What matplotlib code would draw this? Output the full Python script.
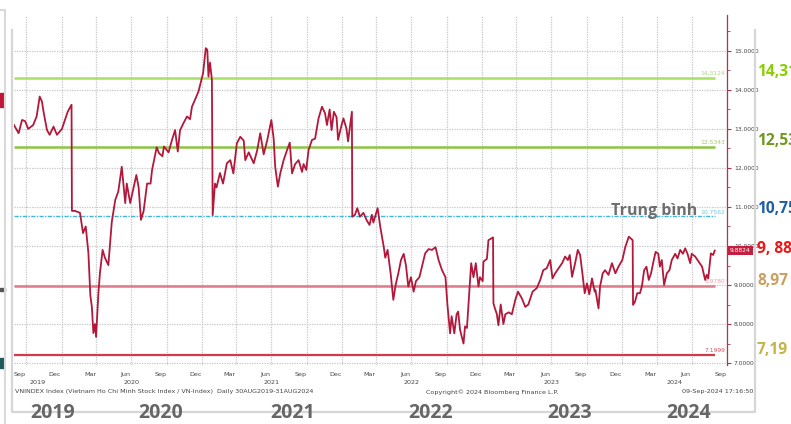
import matplotlib
matplotlib.use("Agg")
import matplotlib.pyplot as plt
import matplotlib.dates as mdates
import matplotlib.transforms as mtransforms
from matplotlib.patches import Rectangle
from matplotlib.lines import Line2D
from matplotlib.ticker import MultipleLocator, FormatStrFormatter
import pandas as pd

# ---------------- data ----------------
dates = [
    "2019-08-30", "2019-09-11", "2019-09-20", "2019-09-28", "2019-10-06", "2019-10-19", "2019-10-28",
    "2019-11-05", "2019-11-11", "2019-11-15", "2019-11-24", "2019-12-01", "2019-12-11", "2019-12-20",
    "2020-01-02", "2020-01-10", "2020-01-17", "2020-01-27", "2020-01-28", "2020-02-05", "2020-02-18",
    "2020-02-26", "2020-03-04", "2020-03-11", "2020-03-16", "2020-03-20", "2020-03-24", "2020-03-28",
    "2020-03-31", "2020-04-06", "2020-04-10", "2020-04-17", "2020-04-23", "2020-05-02", "2020-05-11",
    "2020-05-20", "2020-05-28", "2020-06-06", "2020-06-15", "2020-06-19", "2020-06-28", "2020-07-07",
    "2020-07-14", "2020-07-20", "2020-07-26", "2020-08-02", "2020-08-11", "2020-08-20", "2020-08-24",
    "2020-09-05", "2020-09-11", "2020-09-20", "2020-09-24", "2020-10-06", "2020-10-15", "2020-10-23",
    "2020-10-30", "2020-11-05", "2020-11-14", "2020-11-23", "2020-12-01", "2020-12-06", "2020-12-14",
    "2020-12-23", "2021-01-04", "2021-01-11", "2021-01-15", "2021-01-18", "2021-01-22", "2021-01-27",
    "2021-01-29", "2021-02-04", "2021-02-08", "2021-02-17", "2021-02-25", "2021-03-07", "2021-03-16",
    "2021-03-24", "2021-04-02", "2021-04-11", "2021-04-20", "2021-04-24", "2021-05-03", "2021-05-16",
    "2021-05-25", "2021-06-02", "2021-06-11", "2021-06-20", "2021-07-01", "2021-07-07", "2021-07-11",
    "2021-07-18", "2021-07-24", "2021-08-02", "2021-08-11", "2021-08-18", "2021-08-24", "2021-09-01",
    "2021-09-10", "2021-09-19", "2021-09-23", "2021-09-30", "2021-10-06", "2021-10-15", "2021-10-23",
    "2021-11-01", "2021-11-10", "2021-11-18", "2021-11-23", "2021-11-30", "2021-12-05", "2021-12-11",
    "2021-12-18", "2021-12-22", "2021-12-31", "2022-01-05", "2022-01-13", "2022-01-17", "2022-01-22",
    "2022-01-27", "2022-01-28", "2022-02-04", "2022-02-10", "2022-02-17", "2022-02-26", "2022-03-07",
    "2022-03-14", "2022-03-20", "2022-03-24", "2022-04-04", "2022-04-11", "2022-04-20", "2022-04-24",
    "2022-04-30", "2022-05-08", "2022-05-15", "2022-05-21", "2022-05-28", "2022-06-04", "2022-06-11",
    "2022-06-17", "2022-06-23", "2022-06-30", "2022-07-07", "2022-07-13", "2022-07-22", "2022-07-31",
    "2022-08-06", "2022-08-15", "2022-08-24", "2022-09-02", "2022-09-10", "2022-09-19", "2022-09-28",
    "2022-10-03", "2022-10-06", "2022-10-10", "2022-10-14", "2022-10-21", "2022-10-27", "2022-10-31",
    "2022-11-05", "2022-11-14", "2022-11-18", "2022-11-23", "2022-11-29", "2022-12-04", "2022-12-10",
    "2022-12-16", "2022-12-23", "2022-12-27", "2023-01-03", "2023-01-05", "2023-01-14", "2023-01-18",
    "2023-01-30", "2023-01-31", "2023-02-04", "2023-02-09", "2023-02-13", "2023-02-19", "2023-02-26",
    "2023-03-03", "2023-03-12", "2023-03-20", "2023-03-29", "2023-04-05", "2023-04-15", "2023-04-24",
    "2023-05-02", "2023-05-13", "2023-05-24", "2023-06-02", "2023-06-10", "2023-06-19", "2023-06-28",
    "2023-07-04", "2023-07-11", "2023-07-20", "2023-07-29", "2023-08-06", "2023-08-13", "2023-08-18",
    "2023-08-24", "2023-09-01", "2023-09-08", "2023-09-14", "2023-09-19", "2023-09-26", "2023-10-02",
    "2023-10-08", "2023-10-15", "2023-10-22", "2023-10-24", "2023-11-01", "2023-11-05", "2023-11-12",
    "2023-11-18", "2023-11-27", "2023-12-06", "2023-12-15", "2023-12-23", "2024-01-02", "2024-01-10",
    "2024-01-19", "2024-01-29", "2024-01-30", "2024-02-04", "2024-02-10", "2024-02-17", "2024-02-22",
    "2024-02-28", "2024-03-05", "2024-03-11", "2024-03-17", "2024-03-24", "2024-03-29", "2024-04-05",
    "2024-04-09", "2024-04-14", "2024-04-20", "2024-04-27", "2024-05-04", "2024-05-10", "2024-05-19",
    "2024-05-25", "2024-06-01", "2024-06-08", "2024-06-14", "2024-06-20", "2024-06-27", "2024-07-01",
    "2024-07-10", "2024-07-19", "2024-07-28", "2024-08-05", "2024-08-09", "2024-08-13", "2024-08-20",
    "2024-08-26", "2024-08-30",
]
pe_values = [
    13.10, 12.89, 13.23, 13.20, 13.00, 13.10, 13.32,
    13.83, 13.70, 13.44, 12.97, 12.85, 13.06, 12.85,
    13.00, 13.23, 13.44, 13.62, 10.90, 10.90, 10.85,
    10.33, 10.50, 9.82, 8.74, 8.44, 7.77, 8.00,
    7.67, 8.79, 9.30, 9.90, 9.70, 9.51, 10.62,
    11.18, 11.40, 12.03, 11.10, 11.60, 11.10, 11.50,
    11.82, 11.50, 10.67, 10.90, 11.60, 11.60, 11.95,
    12.53, 12.38, 12.30, 12.55, 12.40, 12.72, 12.97,
    12.42, 12.97, 13.15, 13.32, 13.25, 13.57, 13.75,
    13.96, 14.43, 15.07, 15.03, 14.34, 14.70, 14.26,
    10.79, 11.60, 11.50, 11.87, 11.60, 12.12, 12.20,
    11.86, 12.63, 12.80, 12.70, 12.20, 12.40, 12.12,
    12.45, 12.89, 12.35, 12.70, 13.23, 12.75, 12.03,
    11.52, 11.85, 12.20, 12.46, 12.65, 11.86, 12.10,
    12.20, 11.90, 12.10, 11.95, 12.46, 12.72, 12.75,
    13.27, 13.57, 13.40, 13.10, 13.50, 12.97, 13.44,
    13.30, 12.72, 13.10, 13.27, 13.00, 12.68, 13.05,
    13.44, 10.75, 10.80, 10.97, 10.75, 10.85, 10.65,
    10.54, 10.80, 10.60, 10.97, 10.49, 9.98, 9.70,
    9.90, 9.30, 8.62, 9.00, 9.30, 9.64, 9.80,
    9.50, 8.96, 9.20, 8.83, 9.10, 9.20, 9.56,
    9.81, 9.92, 9.90, 9.97, 9.64, 9.38, 9.20,
    8.50, 8.19, 7.76, 8.20, 7.76, 8.25, 8.32,
    7.85, 7.50, 7.94, 7.90, 8.79, 9.56, 9.20,
    9.56, 8.96, 9.20, 9.10, 9.60, 9.67, 10.15,
    10.22, 8.53, 8.40, 8.25, 7.97, 8.50, 8.00,
    8.25, 8.30, 8.25, 8.62, 8.83, 8.66, 8.44,
    8.50, 8.83, 8.92, 9.13, 9.38, 9.43, 9.64,
    9.17, 9.30, 9.43, 9.56, 9.73, 9.64, 9.77,
    9.21, 9.56, 9.90, 9.77, 9.38, 8.79, 9.04,
    8.76, 9.17, 8.83, 8.87, 8.40, 8.96, 9.30,
    9.38, 9.26, 9.56, 9.30, 9.47, 9.64, 9.98,
    10.24, 10.15, 8.49, 8.57, 8.79, 8.79, 8.96,
    9.38, 9.47, 9.13, 9.30, 9.64, 9.85, 9.80,
    9.47, 9.64, 9.00, 9.30, 9.38, 9.64, 9.80,
    9.68, 9.90, 9.80, 9.94, 9.80, 9.56, 9.80,
    9.73, 9.60, 9.47, 9.13, 9.26, 9.17, 9.81,
    9.77, 9.8824,
]

ref_values = [14.3124, 12.5343, 10.7562, 8.9780, 7.1999]
ref_labels = ["14.3124", "12.5343", "10.7562", "8.9780", "7.1999"]
last_value = 9.8824
last_label = "9.8824"

side_labels = ["14,31", "12,53", "10,75", "9, 88", "8,97", "7,19"]
mean_label = "Trung bình"
years = [2019, 2020, 2021, 2022, 2023, 2024]
big_year_labels = ["2019", "2020", "2021", "2022", "2023", "2024"]

footer_left = "VNINDEX Index (Vietnam Ho Chi Minh Stock Index / VN-Index)  Daily 30AUG2019-31AUG2024"
footer_mid = "Copyright\u00a9 2024 Bloomberg Finance L.P."
footer_right = "09-Sep-2024 17:16:50"

x_start, x_end = "2019-08-30", "2024-10-01"

# ---------------- figure ----------------
W, H = 791, 424
fig = plt.figure(figsize=(W / 100, H / 100), dpi=100)
fig.patch.set_facecolor("white")


def fx(px):
    return px / W


def fy(py):
    return 1 - py / H


ax_l, ax_r, ax_t, ax_b = 14, 727, 15, 365
ax = fig.add_axes([fx(ax_l), fy(ax_b), fx(ax_r) - fx(ax_l), fy(ax_t) - fy(ax_b)])
ax.set_facecolor("white")

d = pd.to_datetime(dates)
ax.set_xlim(pd.Timestamp(x_start), pd.Timestamp(x_end))
ax.set_ylim(6.95, 15.92)

# grid
ax.yaxis.set_major_locator(MultipleLocator(1))
ax.yaxis.set_minor_locator(MultipleLocator(0.5))
ax.xaxis.set_major_locator(mdates.MonthLocator(bymonth=[3, 6, 9, 12], bymonthday=15))
ax.xaxis.set_major_formatter(mdates.DateFormatter("%b"))
ax.xaxis.set_minor_locator(mdates.MonthLocator(bymonth=[1, 4, 7, 10]))
ax.grid(False)
ax.yaxis.grid(True, which="major", color="#c6c6cc", linestyle=(0, (1, 1)), linewidth=0.9)
ax.xaxis.grid(True, which="minor", color="#c6c6c6", linestyle=(0, (1, 1)), linewidth=0.9)

for s in ["top", "left", "bottom"]:
    ax.spines[s].set_visible(False)
ax.spines["right"].set_color("#a8384a")
ax.spines["right"].set_linewidth(0.9)

ax.yaxis.tick_right()
ax.yaxis.set_major_formatter(FormatStrFormatter("%.4f"))
ax.tick_params(axis="y", which="major", direction="out", length=3, width=0.8, color="#a8384a",
               labelsize=4.3, labelcolor="#444444", pad=2)
ax.tick_params(axis="y", which="minor", direction="out", length=2, width=0.6, color="#a8384a")
ax.tick_params(axis="x", which="both", length=0, labelsize=4.6, labelcolor="#444444", pad=5)

# reference lines
ref_colors = ["#a8e064", "#8cc444", "#3db8d8", "#e07b8b", "#d23a4c"]
ref_label_colors = ["#a8d878", "#a0c870", "#70c8e0", "#e8a0a8", "#d85060"]
ref_styles = ["-", "-", (0, (3, 1, 1, 1)), "-", "-"]
ref_widths = [1.8, 1.8, 1.0, 1.8, 1.6]
yblend = mtransforms.blended_transform_factory(ax.transAxes, ax.transData)
for v, c, ls, lw, lab, lc in zip(ref_values, ref_colors, ref_styles, ref_widths, ref_labels, ref_label_colors):
    ax.hlines(v, d[0], d[-1], colors=c, linestyles=ls, linewidth=lw, zorder=2)
    ax.text(0.9975, v + 0.05, lab, transform=yblend, ha="right", va="bottom", fontsize=4.3, color=lc, zorder=3)

# main series
ax.plot(d, pe_values, color="#b3183b", linewidth=1.3, zorder=4, solid_joinstyle="round")

# last value box
ax.text(1.004, last_value, last_label, transform=yblend,
        ha="left", va="center", fontsize=4.3, color="white", zorder=6, clip_on=False,
        bbox=dict(boxstyle="square,pad=0.35", facecolor="#c41f3e", edgecolor="none"))

# small year labels under month ticks (centre of each year's visible span)
blend = mtransforms.blended_transform_factory(ax.transData, fig.transFigure)
xmin_dt, xmax_dt = pd.Timestamp(x_start), pd.Timestamp(x_end)
for yr in years:
    a = max(pd.Timestamp(f"{yr}-01-01"), xmin_dt)
    b = min(pd.Timestamp(f"{yr + 1}-01-01"), xmax_dt)
    mid = a + (b - a) / 2
    ax.text(mdates.date2num(mid), fy(383), str(yr), transform=blend, ha="center", va="center",
            fontsize=4.6, color="#444444")

# footers
fig.text(fx(15), fy(392), footer_left, fontsize=4.6, color="#444444", ha="left", va="center")
fig.text(fx(426), fy(392), footer_mid, fontsize=4.6, color="#444444", ha="left", va="center")
fig.text(fx(753), fy(392), footer_right, fontsize=4.6, color="#444444", ha="right", va="center")

# frame decorations of the screenshot
frame_c = "#d6d6d6"
fig.add_artist(Line2D([fx(4.5), fx(4.5)], [fy(10), fy(424)], color="#d9d9d9", linewidth=1.5))
fig.add_artist(Line2D([fx(0), fx(4.5)], [fy(10), fy(10)], color="#d9d9d9", linewidth=1.5))
fig.add_artist(Line2D([fx(12), fx(12), fx(755), fx(755)], [fy(30), fy(412), fy(412), fy(30)],
                      color=frame_c, linewidth=1.6))
fig.add_artist(Rectangle((fx(0), fy(107)), fx(4), fy(93) - fy(107), color="#c0163a", transform=fig.transFigure))
fig.add_artist(Rectangle((fx(0), fy(291)), fx(5), fy(288) - fy(291), color="#555555", transform=fig.transFigure))
fig.add_artist(Rectangle((fx(0), fy(368)), fx(4), fy(358) - fy(368), color="#1d5a5c", transform=fig.transFigure))

# big annotation texts
ann_font = ["Open Sans", "DejaVu Sans"]
side_colors = ["#8ccf00", "#6f9a1e", "#1c5da6", "#f01515", "#c9a062", "#c4b445"]
side_ypix = [72, 141, 209, 249, 281, 350]
for lab, yp, c in zip(side_labels, side_ypix, side_colors):
    fig.text(fx(757), fy(yp), lab, ha="left", va="center", fontsize=11.2, fontweight="bold",
             color=c, family=ann_font)

ax.text(pd.Timestamp("2024-03-25"), 10.80, mean_label, ha="center", va="baseline", fontsize=11.5,
        fontweight="bold", color="#6e6e6e", family=ann_font, zorder=5)

big_x = [53, 161, 293, 431, 570, 689]
for lab, px in zip(big_year_labels, big_x):
    fig.text(fx(px), fy(413), lab, ha="center", va="center", fontsize=14, fontweight="bold",
             color="#666666", family=ann_font)

fig.savefig("out.png", dpi=100, facecolor="white")
